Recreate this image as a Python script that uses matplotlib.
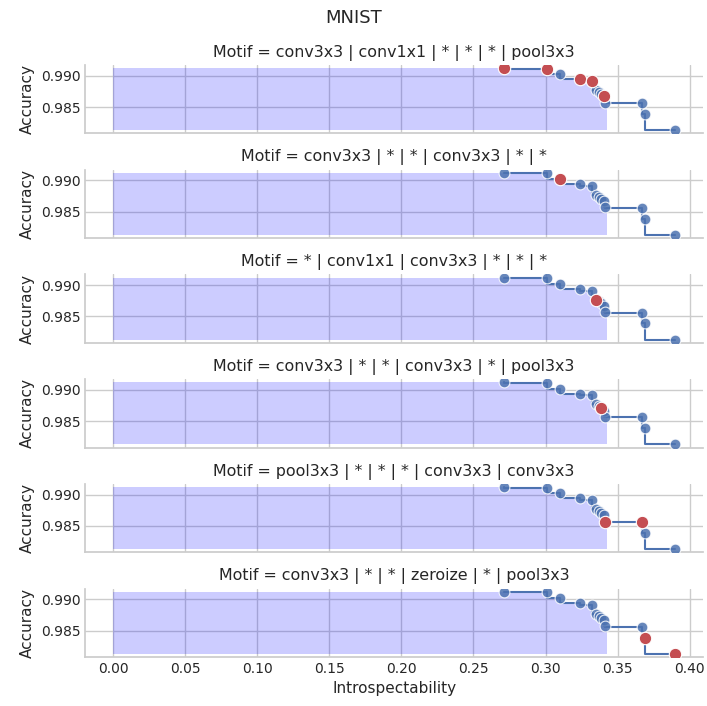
import matplotlib
matplotlib.use("Agg")
import matplotlib.pyplot as plt
import seaborn as sns

# Pareto front of the searched cells (shared by every motif panel)
introspectability = [0.271, 0.301, 0.310, 0.3236, 0.3326, 0.3350, 0.3368,
                     0.3388, 0.3404, 0.3414, 0.3669, 0.3692, 0.3898]
accuracy = [0.9912, 0.9911, 0.9902, 0.9894, 0.9891, 0.9877, 0.9874,
            0.9871, 0.9867, 0.9857, 0.9856, 0.9839, 0.9813]

motifs = [
    "conv3x3 | conv1x1 | * | * | * | pool3x3",
    "conv3x3 | * | * | conv3x3 | * | *",
    "* | conv1x1 | conv3x3 | * | * | *",
    "conv3x3 | * | * | conv3x3 | * | pool3x3",
    "pool3x3 | * | * | * | conv3x3 | conv3x3",
    "conv3x3 | * | * | zeroize | * | pool3x3",
]
# front members that contain each motif
motif_members = [
    [0, 1, 3, 4, 8],
    [2],
    [5],
    [7],
    [9, 10],
    [11, 12],
]
# the shaded region covers the front up to this member
shade_until = 9
shade_right = 0.343

xticks = [0.00, 0.05, 0.10, 0.15, 0.20, 0.25, 0.30, 0.35, 0.40]
yticks = [0.985, 0.990]

sns.set_theme(style="whitegrid")
plt.rcParams["font.family"] = ["DejaVu Sans"]

fig, axes = plt.subplots(len(motifs), 1, figsize=(7.07, 7.06), dpi=100,
                         sharex=True, sharey=True)
fig.subplots_adjust(left=0.1205, right=0.9943, top=0.9079, bottom=0.0694,
                    hspace=0.533)

blue = "#4c72b0"
red = "#c44e52"
y_floor = min(accuracy)

for ax, motif, members in zip(axes, motifs, motif_members):
    fx = [0.0] + introspectability[:shade_until + 1] + [shade_right]
    fy = [accuracy[0]] + accuracy[:shade_until + 1] + [accuracy[shade_until]]
    ax.fill_between(fx, fy, y_floor, step="pre", color="blue", alpha=0.2,
                    linewidth=0, zorder=1)
    ax.plot(introspectability, accuracy, drawstyle="steps-pre", color=blue,
            linewidth=1.5, zorder=2)
    ax.scatter(introspectability, accuracy, s=60, color=blue, alpha=0.85,
               edgecolor="white", linewidth=0.8, zorder=3)
    ax.scatter([introspectability[i] for i in members],
               [accuracy[i] for i in members], s=80, color=red,
               edgecolor="white", linewidth=0.8, zorder=4)
    ax.set_title(f"Motif = {motif}", fontsize=11.4, color=".15")
    ax.set_ylabel("Accuracy", fontsize=11, color=".15")
    ax.set_yticks(yticks)
    ax.set_yticklabels([f"{v:.3f}" for v in yticks])
    ax.tick_params(labelsize=10, length=0, colors=".15")
    sns.despine(ax=ax)

axes[-1].set_xticks(xticks)
axes[-1].set_xticklabels([f"{v:.2f}" for v in xticks])
axes[-1].set_xlabel("Introspectability", fontsize=11, color=".15")

fig.suptitle("MNIST", fontsize=13, y=0.987, color=".15")
fig.savefig("out.png", dpi=100)
